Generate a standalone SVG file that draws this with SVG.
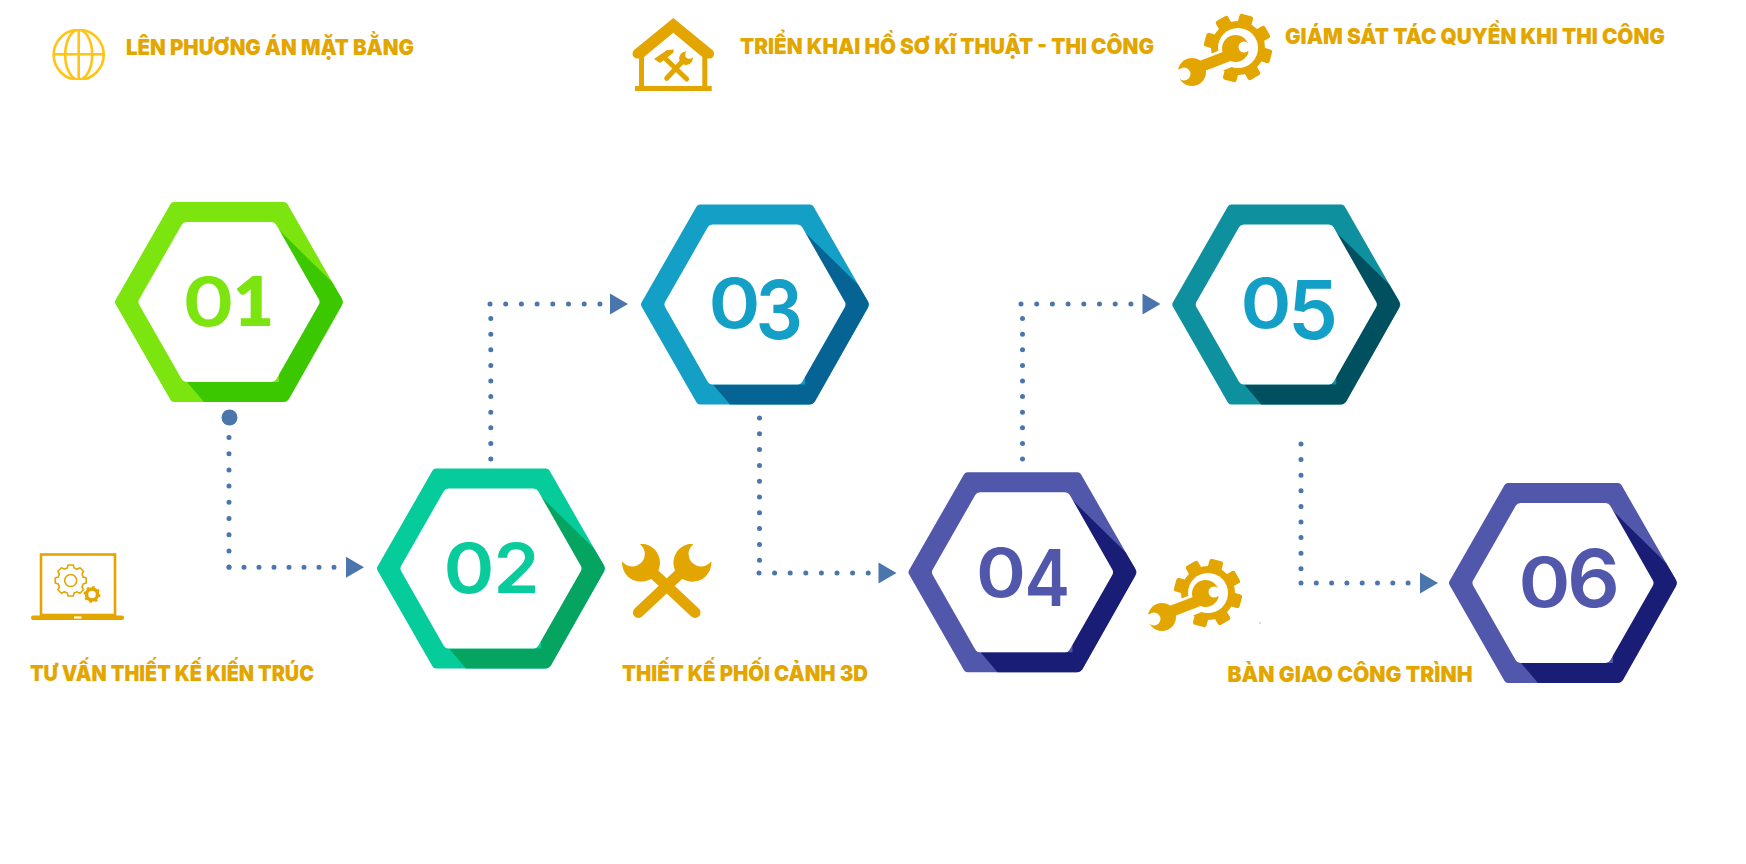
<svg xmlns="http://www.w3.org/2000/svg" width="1746" height="864" viewBox="0 0 1746 864">
<style>
text{font-family:"Inter","Noto Sans","Liberation Sans",sans-serif}
.lbl{font-size:22px;font-weight:900;fill:#e3a600}
.num{font-weight:600}
.one{font-family:"Lato","Inter",sans-serif;font-weight:800}
.dots{fill:none;stroke:#4a76ad;stroke-width:5;stroke-linecap:round}
.gold{fill:#e3a600}
.goldline{fill:none;stroke:#e3a600;stroke-linecap:round}
.w{fill:#fff}
</style>
<defs>
<path id="hexOuter" d="M-110,0L-55,-96H55L110,0L55,96H-55Z" stroke-width="8" stroke-linejoin="round"/>
<path id="hexInner" d="M-85,0L-42.500,-74.500H42.500L85,0L42.500,74.500H-42.500Z" fill="#fff" stroke="#fff" stroke-width="11" stroke-linejoin="round"/>
<path id="hexDark" d="M50,-72L103,-20L112.500,-4Q114.500,0 112.500,4L60,97Q58,100 54,100H-25L-42,80H50Z"/>
<path id="arrow" d="M0,-10.500L18,0L0,10.500Z" fill="#4a76ad"/>
<rect id="tooth" x="-7" y="-34" width="14" height="12" rx="2.500" class="gold"/>
<path id="lapTooth" d="M-3.500,-12.500L-2.500,-15.500H2.500L3.500,-12.500L6.360,-11.300" class="goldline" stroke-width="1.600"/>
<g id="gearWrench">
<circle r="27" class="gold"/>
<use href="#tooth" transform="rotate(15)"/><use href="#tooth" transform="rotate(60)"/><use href="#tooth" transform="rotate(105)"/><use href="#tooth" transform="rotate(150)"/><use href="#tooth" transform="rotate(195)"/><use href="#tooth" transform="rotate(285)"/><use href="#tooth" transform="rotate(330)"/>
<circle r="20" class="w"/>
<path d="M-6,8L-40,22" stroke="#fff" stroke-width="20" fill="none"/>
<circle cx="-2.500" cy="0.500" r="13.500" class="gold"/>
<path d="M-10,8L-36,18" stroke="#e3a600" stroke-width="11" fill="none"/>
<circle cx="-46" cy="24" r="14" class="gold"/>
<circle cx="6" cy="-1" r="5.500" class="w"/>
<path d="M6,-4L16,-7V5L6,2Z" class="w"/>
<circle cx="-54" cy="26" r="6.500" class="w"/>
<path d="M-54,23L-66,19V34L-54,29Z" class="w"/>
</g>
<clipPath id="clipCross"><rect x="615" y="544" width="104" height="76"/></clipPath>
<clipPath id="clipGlobe"><rect x="50" y="29" width="58" height="51"/></clipPath>
</defs>

<g id="connectors">
<circle cx="229.500" cy="417.500" r="8" fill="#4a76ad"/>
<path class="dots" stroke-dasharray="0 16.200" d="M229,437.500V567.200"/><path class="dots" stroke-dasharray="0 15" d="M229,567.200H335"/>
<use href="#arrow" x="346" y="567.200"/>
<path class="dots" stroke-dasharray="0 15.600" d="M490.800,459V304"/><path class="dots" stroke-dasharray="0 15.700" d="M490,304H600"/>
<use href="#arrow" x="610" y="304"/>
<path class="dots" stroke-dasharray="0 15.800" d="M759.500,418V573"/><path class="dots" stroke-dasharray="0 15.600" d="M759,573H869"/>
<use href="#arrow" x="878.500" y="573"/>
<path class="dots" stroke-dasharray="0 15.600" d="M1022.500,459V304"/><path class="dots" stroke-dasharray="0 15.700" d="M1021,304H1131"/>
<use href="#arrow" x="1142.500" y="304"/>
<path class="dots" stroke-dasharray="0 15.600" d="M1301,444V583"/><path class="dots" stroke-dasharray="0 15.300" d="M1301,583H1409"/>
<use href="#arrow" x="1420" y="583"/>
</g>

<g id="node-01" transform="translate(229,302)">
<use href="#hexOuter" fill="#7ce50f" stroke="#7ce50f"/><use href="#hexDark" fill="#3cc800"/><use href="#hexInner"/>
</g>
<g id="num-01" class="num" fill="#7ce50f">
<text x="182.500" y="326" font-size="68" textLength="52" lengthAdjust="spacingAndGlyphs">0</text>
<text class="one" x="233" y="326" font-size="69" textLength="41" lengthAdjust="spacingAndGlyphs">1</text>
</g>
<g id="node-02" transform="translate(491,568.500)">
<use href="#hexOuter" fill="#05cc9a" stroke="#05cc9a"/><use href="#hexDark" fill="#05a460"/><use href="#hexInner"/>
</g>
<g id="num-02" class="num" fill="#0acb9b">
<text x="443.500" y="593" font-size="69" textLength="51" lengthAdjust="spacingAndGlyphs">0</text>
<text x="493.500" y="593" font-size="69" textLength="46" lengthAdjust="spacingAndGlyphs">2</text>
</g>
<g id="node-03" transform="translate(755,304.500)">
<use href="#hexOuter" fill="#14a0c6" stroke="#14a0c6"/><use href="#hexDark" fill="#056493"/><use href="#hexInner"/>
</g>
<g id="num-03" class="num" fill="#14a0c6">
<text x="708.500" y="328" font-size="69" textLength="52" lengthAdjust="spacingAndGlyphs">0</text>
<text x="755.500" y="339" font-size="81" textLength="47.500" lengthAdjust="spacingAndGlyphs">3</text>
</g>
<g id="node-04" transform="translate(1022.500,572.200)">
<use href="#hexOuter" fill="#5158ab" stroke="#5158ab"/><use href="#hexDark" fill="#1a1d75"/><use href="#hexInner"/>
</g>
<g id="num-04" class="num" fill="#5158ab">
<text x="976" y="596.500" font-size="68" textLength="50" lengthAdjust="spacingAndGlyphs">0</text>
<text x="1024.500" y="606" font-size="78" textLength="45.500" lengthAdjust="spacingAndGlyphs">4</text>
</g>
<g id="node-05" transform="translate(1286.300,304.500)">
<use href="#hexOuter" fill="#0e909f" stroke="#0e909f"/><use href="#hexDark" fill="#00505f"/><use href="#hexInner"/>
</g>
<g id="num-05" class="num" fill="#14a0c6">
<text x="1240.500" y="328" font-size="69" textLength="51" lengthAdjust="spacingAndGlyphs">0</text>
<text x="1288" y="339" font-size="81" textLength="50" lengthAdjust="spacingAndGlyphs">5</text>
</g>
<g id="node-06" transform="translate(1563,583)">
<use href="#hexOuter" fill="#5158ab" stroke="#5158ab"/><use href="#hexDark" fill="#1a1d75"/><use href="#hexInner"/>
</g>
<g id="num-06" class="num" fill="#5158ab">
<text x="1518.500" y="606.500" font-size="69" textLength="52" lengthAdjust="spacingAndGlyphs">0</text>
<text x="1567" y="606.500" font-size="80" textLength="53" lengthAdjust="spacingAndGlyphs">6</text>
</g>

<g id="icon-globe" clip-path="url(#clipGlobe)" fill="none" stroke="#ffc414" stroke-width="2.600">
<circle cx="78.700" cy="54.800" r="25"/>
<ellipse cx="78.700" cy="54.800" rx="13.500" ry="25"/>
<path d="M78.700,30V80M53,54.300H104"/>
</g>
<text id="label-1" class="lbl" x="126" y="55" textLength="288" lengthAdjust="spacingAndGlyphs">LÊN PHƯƠNG ÁN MẶT BẰNG</text>

<g id="icon-house">
<path class="gold" d="M673.300,18L713,50.500Q716,56 711,58.500H707.300V86H711.700V91H635V86H639V58.500H636Q630.500,56 633.500,50.500ZM673.300,32.700L644,57V86H702.300V57Z" fill-rule="evenodd"/>
<path class="goldline" stroke-width="5" d="M666.700,78.300L683,60.700M686.700,79L665,58.300"/>
<path class="gold" d="M654,59L667,50L674,49.500L673,53L660,63Z"/>
<circle cx="686" cy="58.300" r="6.800" class="gold"/>
<circle cx="689.300" cy="54.800" r="4" class="w"/>
</g>
<text id="label-2" class="lbl" x="740" y="54" textLength="414" lengthAdjust="spacingAndGlyphs">TRIỂN KHAI HỒ SƠ KĨ THUẬT - THI CÔNG</text>

<use id="icon-gear-top" href="#gearWrench" x="1238" y="48"/>
<text id="label-3" class="lbl" x="1285" y="44" textLength="380" lengthAdjust="spacingAndGlyphs">GIÁM SÁT TÁC QUYỀN KHI THI CÔNG</text>

<g id="icon-laptop" transform="translate(0,-2.500)">
<rect x="41" y="557" width="74" height="60.500" fill="none" stroke="#e3a600" stroke-width="2.600"/>
<rect x="31" y="618" width="93" height="4.500" rx="2" class="gold"/>
<rect x="74" y="619" width="7.500" height="2" class="w"/>
<g transform="translate(70.700,583)">
<use href="#lapTooth"/><use href="#lapTooth" transform="rotate(45)"/><use href="#lapTooth" transform="rotate(90)"/><use href="#lapTooth" transform="rotate(135)"/><use href="#lapTooth" transform="rotate(180)"/><use href="#lapTooth" transform="rotate(225)"/><use href="#lapTooth" transform="rotate(270)"/><use href="#lapTooth" transform="rotate(315)"/>
<circle r="6" fill="none" stroke="#e3a600" stroke-width="1.600"/>
</g>
<circle cx="92" cy="597" r="5.500" fill="none" stroke="#e3a600" stroke-width="3.500"/>
<circle cx="92" cy="597" r="7.500" fill="none" stroke="#e3a600" stroke-width="2" stroke-dasharray="2.500 3.400"/>
</g>
<text id="label-4" class="lbl" x="30" y="681" textLength="284" lengthAdjust="spacingAndGlyphs">TƯ VẤN THIẾT KẾ KIẾN TRÚC</text>

<g id="icon-cross" clip-path="url(#clipCross)">
<path d="M654,574L695,612.500M679.400,574L638.400,612.500" stroke="#e3a600" stroke-width="11" stroke-linecap="round" fill="none"/>
<circle cx="641" cy="562.700" r="19" class="gold"/>
<circle cx="692.400" cy="562.700" r="19" class="gold"/>
<circle cx="632.300" cy="554" r="12.500" class="w"/>
<circle cx="701.100" cy="554" r="12.500" class="w"/>
</g>
<text id="label-5" class="lbl" x="622" y="681" textLength="246" lengthAdjust="spacingAndGlyphs">THIẾT KẾ PHỐI CẢNH 3D</text>

<use id="icon-gear-bottom" href="#gearWrench" x="1208" y="593"/>
<circle id="speck" cx="1260" cy="623" r="0.800" fill="#aaa"/>
<text id="label-6" class="lbl" x="1227.500" y="682" textLength="245" lengthAdjust="spacingAndGlyphs">BÀN GIAO CÔNG TRÌNH</text>
</svg>
